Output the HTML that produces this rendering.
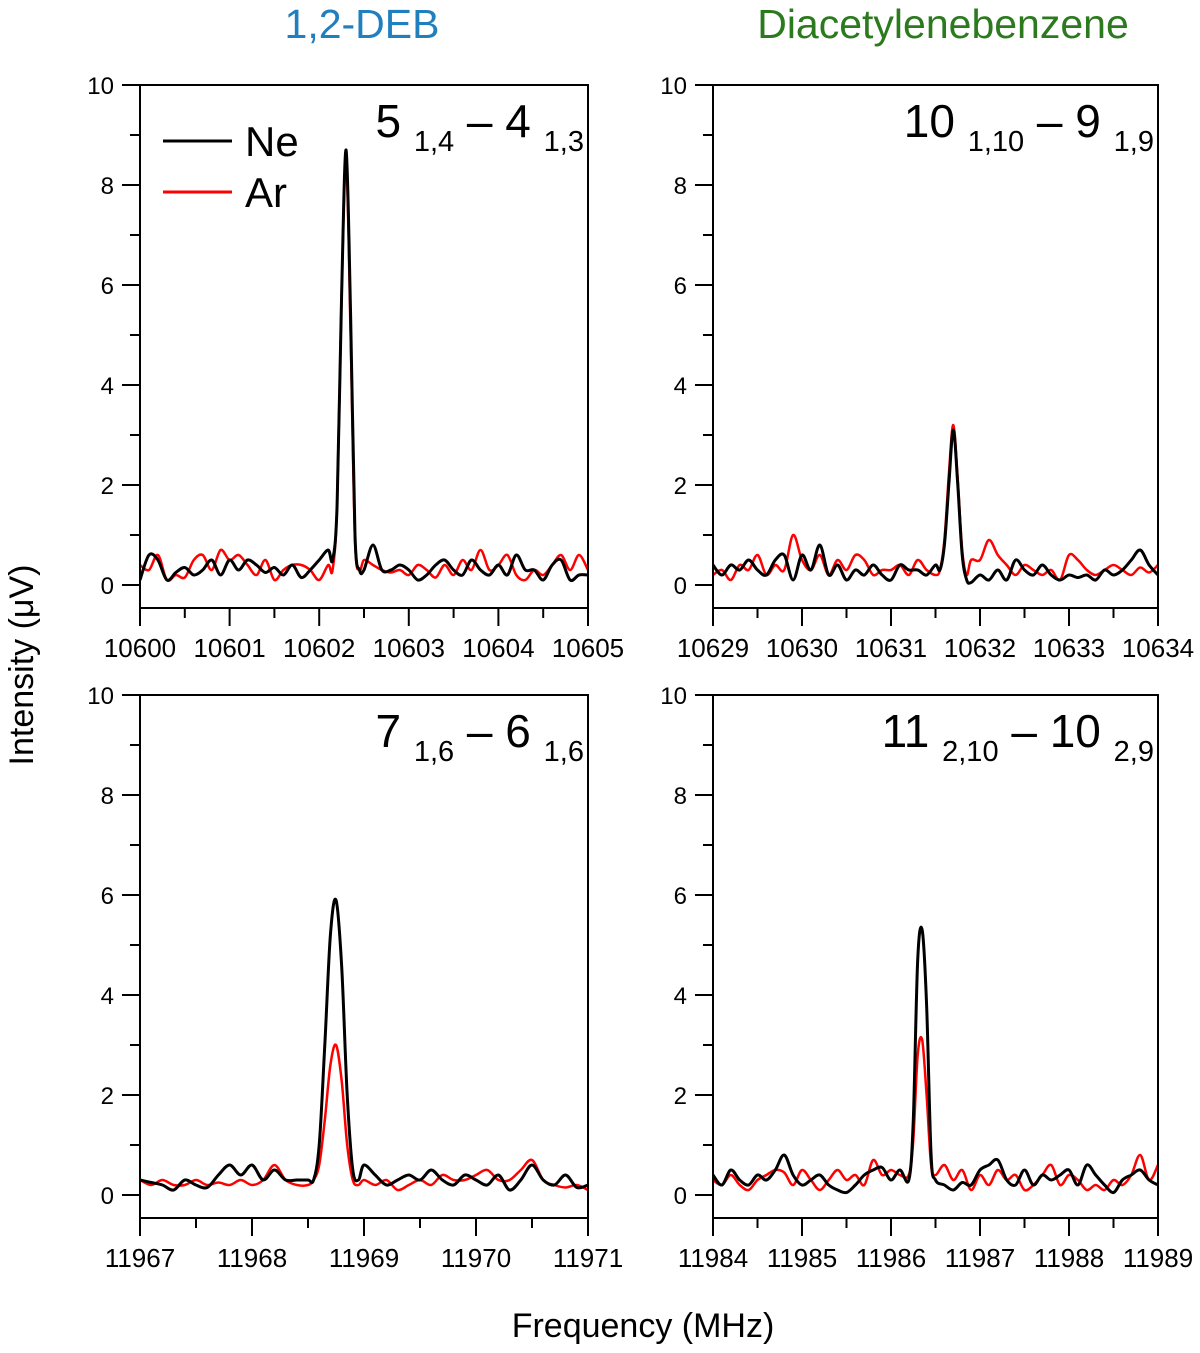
<!DOCTYPE html>
<html><head><meta charset="utf-8"><style>
body{margin:0;background:#fff;}
svg text{font-family:"Liberation Sans",Arial,sans-serif;}
</style></head><body>
<svg id="chart" width="1200" height="1348" viewBox="0 0 1200 1348" xmlns="http://www.w3.org/2000/svg">
<text x="362" y="38" font-size="41" fill="#1f7fbf" text-anchor="middle">1,2-DEB</text>
<text x="943" y="38" font-size="41" fill="#2b7a1e" text-anchor="middle">Diacetylenebenzene</text>
<text transform="translate(33,665) rotate(-90)" font-size="34" text-anchor="middle">Intensity (μV)</text>
<text x="643" y="1337" font-size="34" text-anchor="middle">Frequency (MHz)</text>
</svg>
<script>
// Panel 1: 10600-10605
const p1Ne = [0.1,0.6,0.5,0.1,0.25,0.35,0.2,0.3,0.5,0.2, 0.5,0.3,0.5,0.4,0.25,0.35,0.2,0.4,0.15,0.3, 0.5,0.7,null,null,null,0.3,0.8,0.3,0.3,0.4, 0.3,0.1,0.2,0.4,0.5,0.3,0.2,0.5,0.3,0.2, 0.4,0.2,0.6,0.3,0.3,0.1,0.4,0.5,0.1,0.2,0.2];
const p1Ar = [0.4,0.3,0.6,0.1,0.2,0.15,0.5,0.6,0.3,0.7, 0.5,0.6,0.4,0.2,0.5,0.1,0.3,0.4,0.4,0.3, 0.1,0.4,null,null,null,0.5,0.4,0.3,0.25,0.3, 0.2,0.4,0.3,0.15,0.4,0.2,0.5,0.3,0.7,0.3, 0.4,0.6,0.2,0.1,0.3,0.2,0.4,0.6,0.3,0.6,0.3];
const p1PeakX = [10602.15,10602.2,10602.25,10602.3,10602.35,10602.4,10602.45];
const p1PeakNe = [0.5,1.6,5.8,8.7,5.4,1.0,0.3];
const p1PeakAr = [0.3,1.6,5.8,8.5,5.0,0.9,0.3];
// Panel 2: 10629-10634
const p2Ne = [0.4,0.2,0.4,0.3,0.5,0.3,0.2,0.5,0.6,0.1, 0.6,0.3,0.8,0.2,0.4,0.1,0.3,0.2,0.4,0.2, 0.1,0.4,0.3,0.3,0.2,0.4,null,null,null,0.05, 0.2,0.1,0.3,0.1,0.5,0.3,0.2,0.4,0.2,0.1, 0.2,0.15,0.2,0.1,0.3,0.2,0.3,0.5,0.7,0.4,0.2];
const p2Ar = [0.2,0.3,0.1,0.4,0.3,0.6,0.2,0.4,0.3,1.0, 0.5,0.3,0.6,0.2,0.5,0.3,0.6,0.5,0.2,0.3, 0.3,0.4,0.2,0.5,0.3,0.2,null,null,null,0.5, 0.5,0.9,0.6,0.4,0.2,0.4,0.3,0.2,0.3,0.1, 0.6,0.5,0.3,0.2,0.3,0.4,0.3,0.2,0.35,0.25,0.4];
const p2PeakX = [10631.55,10631.6,10631.65,10631.7,10631.75,10631.8,10631.85];
const p2PeakNe = [0.3,0.8,2.0,3.1,2.0,0.6,0.1];
const p2PeakAr = [0.3,0.9,2.2,3.2,2.1,0.7,0.2];
// Panel 3: 11967-11971
const p3Ne = [0.3,0.25,0.2,0.1,0.3,0.2,0.15,0.4,0.6,0.4, 0.6,0.3,0.5,0.3,0.3,0.3,null,null,null,null, 0.6,0.4,0.2,0.3,0.4,0.3,0.5,0.3,0.2,0.4, 0.3,0.2,0.4,0.1,0.3,0.6,0.3,0.2,0.4,0.15,0.2];
const p3Ar = [0.3,0.2,0.3,0.2,0.2,0.3,0.2,0.25,0.2,0.3, 0.2,0.3,0.6,0.3,0.2,0.2,null,null,null,null, 0.3,0.2,0.3,0.1,0.2,0.3,0.2,0.4,0.3,0.3, 0.4,0.5,0.3,0.3,0.5,0.7,0.3,0.2,0.15,0.2,0.1];
const p3PeakX = [11968.55,11968.6,11968.65,11968.7,11968.75,11968.8,11968.85,11968.9,11968.95];
const p3PeakNe = [0.3,1.0,3.0,5.2,5.9,4.6,2.0,0.5,0.3];
const p3PeakAr = [0.3,0.6,1.5,2.6,3.0,2.3,1.0,0.3,0.2];
// Panel 4: 11984-11989
const p4Ne = [0.4,0.2,0.5,0.3,0.2,0.4,0.3,0.5,0.8,0.4, 0.2,0.3,0.4,0.2,0.1,0.05,0.2,0.4,0.5,0.55, 0.3,0.5,null,null,null,null,0.2,0.1,0.25,0.2, 0.5,0.6,0.7,0.3,0.2,0.5,0.2,0.4,0.3,0.4, 0.5,0.2,0.6,0.4,0.2,0.05,0.3,0.4,0.5,0.3,0.2];
const p4Ar = [0.3,0.2,0.4,0.2,0.1,0.3,0.4,0.5,0.45,0.2, 0.5,0.3,0.1,0.3,0.5,0.3,0.4,0.2,0.7,0.4, 0.5,0.4,null,null,null,null,0.6,0.3,0.5,0.1, 0.4,0.2,0.5,0.3,0.4,0.1,0.2,0.4,0.6,0.2, 0.4,0.3,0.1,0.2,0.1,0.3,0.2,0.4,0.8,0.3,0.6];
const p4PeakX = [11986.2,11986.25,11986.3,11986.35,11986.4,11986.45,11986.5];
const p4PeakNe = [0.3,1.5,4.7,5.3,3.8,0.8,0.3];
const p4PeakAr = [0.4,1.1,2.8,3.1,2.0,0.6,0.4];
const yTicks = [0,2,4,6,8,10];
const p1XTicks = [10600,10601,10602,10603,10604,10605];
const p2XTicks = [10629,10630,10631,10632,10633,10634];
const p3XTicks = [11967,11968,11969,11970,11971];
const p4XTicks = [11984,11985,11986,11987,11988,11989];

const NS='http://www.w3.org/2000/svg';
const svg=document.getElementById('chart');
function mk(tag,attrs,parent){const e=document.createElementNS(NS,tag);for(const k in attrs)e.setAttribute(k,attrs[k]);(parent||svg).appendChild(e);return e;}

function merge(start,noise,px,py){
  const pts=[];
  noise.forEach((v,i)=>{if(v!==null)pts.push([start+i*0.1,v]);});
  px.forEach((x,i)=>pts.push([x,py[i]]));
  pts.sort((a,b)=>a[0]-b[0]);
  return pts;
}
function smooth(p){
  let d='M'+p[0][0].toFixed(1)+','+p[0][1].toFixed(1);
  for(let i=0;i<p.length-1;i++){
    const p0=p[i-1]||p[i],p1=p[i],p2=p[i+1],p3=p[i+2]||p2;
    const c1=[p1[0]+(p2[0]-p0[0])/6,p1[1]+(p2[1]-p0[1])/6];
    const c2=[p2[0]-(p3[0]-p1[0])/6,p2[1]-(p3[1]-p1[1])/6];
    d+='C'+c1[0].toFixed(1)+','+c1[1].toFixed(1)+' '+c2[0].toFixed(1)+','+c2[1].toFixed(1)+' '+p2[0].toFixed(1)+','+p2[1].toFixed(1);
  }
  return d;
}

function panel(id,L,R,T,B,xmin,xmax,xticks,ne,ar,pkx,pkne,pkar,label){
  const y0=T+500, sy=v=>y0-v*50, sx=x=>L+(x-xmin)/(xmax-xmin)*(R-L);
  const g=mk('g',{});
  
  
  const cp=mk('clipPath',{id:'c'+id},g);
  mk('rect',{x:L,y:T,width:R-L,height:B-T},cp);
  const lines=[[ar,pkar,'#ff0000','ar'],[ne,pkne,'#000','ne']];
  for(const [n,pk,col,nm] of lines){
    const pts=merge(xmin,n,pkx,pk).map(p=>[sx(p[0]),sy(p[1])]);
    const path=mk('path',{d:smooth(pts),fill:'none',stroke:col,'stroke-width':nm==='ne'?3:2.5,'clip-path':'url(#c'+id+')','stroke-linejoin':'round'},g);
    
    
  }
  const frame=mk('rect',{x:L,y:T,width:R-L,height:B-T,fill:'none',stroke:'#000','stroke-width':2},g);
  
  
  for(let v=0;v<=10;v++){
    mk('line',{x1:L-(v%2?10:18),x2:L,y1:sy(v),y2:sy(v),stroke:'#000','stroke-width':2},g);
  }
  yTicks.forEach(v=>{
    const t=mk('text',{x:L-26,y:sy(v)+9,'font-size':24,'text-anchor':'end'},g);
    t.textContent=v;
    
    
  });
  for(let k=0;k<(xticks.length-1)*2+1;k++){
    const x=xmin+k*0.5;
    mk('line',{x1:sx(x),x2:sx(x),y1:B,y2:B+(k%2?10:18),stroke:'#000','stroke-width':2},g);
  }
  xticks.forEach(v=>{
    const t=mk('text',{x:sx(v),y:B+49,'font-size':26,'text-anchor':'middle'},g);
    t.textContent=v;
    
    
  });
  const a=mk('text',{x:R-4,y:T+52,'font-size':46,'text-anchor':'end'},g);
  
  
  label.forEach(([s,sub],i)=>{
    const t=mk('tspan',{'font-size':sub?29:46},a);
    t.textContent=s;
    t.setAttribute('dy', i===0?'0':(sub?'14':'-14'));
  });
}
panel('panel-10602',140,588,85,608,10600,10605,p1XTicks,p1Ne,p1Ar,p1PeakX,p1PeakNe,p1PeakAr,[['5  ',0],['1,4',1],[' – 4  ',0],['1,3',1]]);
panel('panel-10631',713,1158,85,608,10629,10634,p2XTicks,p2Ne,p2Ar,p2PeakX,p2PeakNe,p2PeakAr,[['10  ',0],['1,10',1],[' – 9  ',0],['1,9',1]]);
panel('panel-11968',140,588,695,1218,11967,11971,p3XTicks,p3Ne,p3Ar,p3PeakX,p3PeakNe,p3PeakAr,[['7  ',0],['1,6',1],[' – 6  ',0],['1,6',1]]);
panel('panel-11986',713,1158,695,1218,11984,11989,p4XTicks,p4Ne,p4Ar,p4PeakX,p4PeakNe,p4PeakAr,[['11  ',0],['2,10',1],[' – 10  ',0],['2,9',1]]);

// Legend
const lg=mk('g',{});


[['Ne','#000',141],['Ar','#ff0000',192]].forEach(([n,c,y])=>{
  const l=mk('line',{x1:163,x2:232,y1:y,y2:y,stroke:c,'stroke-width':3},lg);
  
  
  const t=mk('text',{x:245,y:y+15,'font-size':42},lg);
  t.textContent=n;
  
  
});
</script>
</body></html>
